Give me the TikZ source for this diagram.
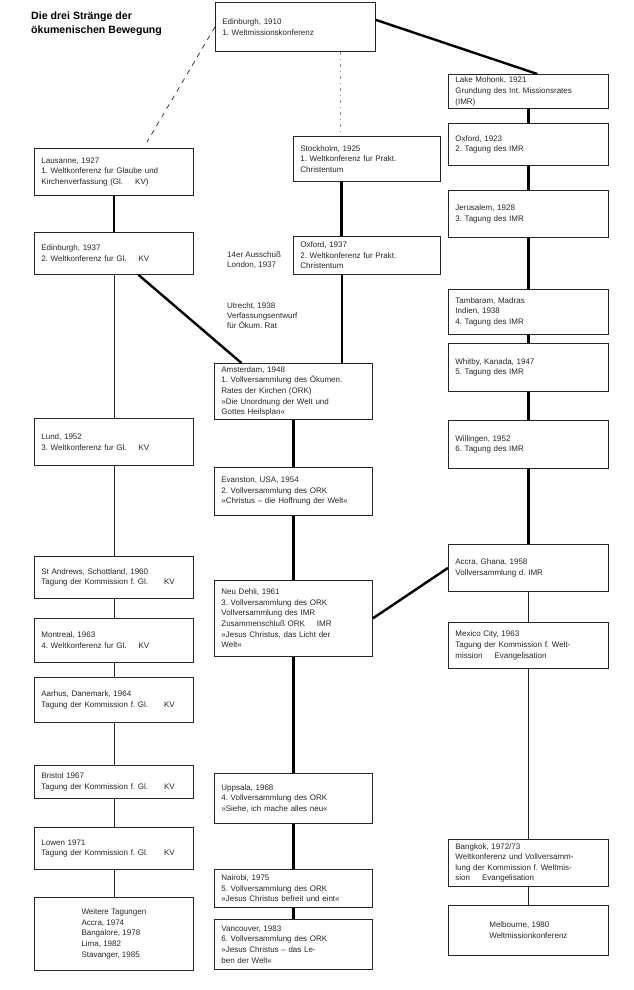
\documentclass[tikz,border=0pt]{standalone}
\usepackage{fontspec}
\setmainfont{Liberation Sans}
\usetikzlibrary{calc}
\frenchspacing
\begin{document}
\begin{tikzpicture}[x=1pt,y=-1pt,
  box/.style={draw=black!85, line width=0.8pt, fill=white, inner xsep=7pt, inner ysep=2pt,
    anchor=north west, align=left, text=black!85, font=\fontsize{8}{10.6}\selectfont},
  colL/.style={box, minimum width=159pt, text width=145pt},
  colM/.style={box, minimum width=158pt, text width=144pt},
  colS/.style={box, minimum width=147pt, text width=133pt},
  colR/.style={box, minimum width=160pt, text width=146pt},
  colC/.style={box, minimum width=#1},
  lbl/.style={anchor=north west, align=left, inner sep=0pt, text=black!85, font=\fontsize{8}{10}\selectfont},
  thickc/.style={line width=2.4pt, black},
  thinc/.style={line width=0.7pt, black!85},
  dashc/.style={line width=0.7pt, black!85, dash pattern=on 5pt off 5pt},
  dotc/.style={line width=0.6pt, black!45, dash pattern=on 3pt off 4pt on 1pt off 4pt},
]
\useasboundingbox (0,0) rectangle (633,990);

% title
\node[anchor=north west, align=left, inner sep=0pt, font=\bfseries\fontsize{10.6}{14}\selectfont] (title) at (31,12)
  {Die drei Stränge der\\ökumenischen Bewegung};

% top
\node[colR, minimum height=49pt] (e1910) at (215,2) {Edinburgh, 1910\\1. Weltmissionskonferenz};

% left column
\node[colL, minimum height=47pt] (laus) at (34,148) {Lausanne, 1927\\1. Weltkonferenz fur Glaube und\\Kirchenverfassung (Gl.\hspace{1.5em}KV)};
\node[colL, minimum height=42pt] (ed37) at (34,232) {Edinburgh, 1937\\2. Weltkonferenz fur Gl.\hspace{1.5em}KV};
\node[colL, minimum height=47pt] (lund) at (34,418) {Lund, 1952\\3. Weltkonferenz fur Gl.\hspace{1.5em}KV};
\node[colL, minimum height=42pt] (stand) at (34,556) {St Andrews, Schottland, 1960\\Tagung der Kommission f. Gl.\hspace{2em}KV};
\node[colL, minimum height=44pt] (montr) at (34,618) {Montreal, 1963\\4. Weltkonferenz fur Gl.\hspace{1.5em}KV};
\node[colL, minimum height=45pt] (aarh) at (34,677) {Aarhus, Danemark, 1964\\Tagung der Kommission f. Gl.\hspace{2em}KV};
\node[colL, minimum height=33pt] (brist) at (34,765) {Bristol 1967\\Tagung der Kommission f. Gl.\hspace{2em}KV};
\node[colL, minimum height=42pt] (lowen) at (34,827) {Lowen 1971\\Tagung der Kommission f. Gl.\hspace{2em}KV};
\node[colC=159pt, minimum height=73pt] (weit) at (34,897) {Weitere Tagungen\\Accra, 1974\\Bangalore, 1978\\Lima, 1982\\Stavanger, 1985};

% second column
\node[colS, minimum height=45pt] (stock) at (293,136) {Stockholm, 1925\\1. Weltkonferenz fur Prakt.\\Christentum};
\node[colS, minimum height=38pt] (ox37) at (293,236) {Oxford, 1937\\2. Weltkonferenz fur Prakt.\\Christentum};

\node[lbl] (lond) at (227,252) {14er Ausschuß\\London, 1937};
\node[lbl] (utr) at (227,302) {Utrecht, 1938\\Verfassungsentwurf\\für Ökum. Rat};

% middle column
\node[colM, minimum height=56pt] (ams) at (214,363) {Amsterdam, 1948\\1. Vollversammlung des Ökumen.\\Rates der Kirchen (ORK)\\»Die Unordnung der Welt und\\Gottes Heilsplan«};
\node[colM, minimum height=48pt] (evan) at (214,467) {Evanston, USA, 1954\\2. Vollversammlung des ORK\\»Christus \textendash{} die Hoffnung der Welt«};
\node[colM, minimum height=76pt] (nd) at (214,580) {Neu Dehli, 1961\\3. Vollversammlung des ORK\\Vollversammlung des IMR\\Zusammenschluß ORK\hspace{1.5em}IMR\\»Jesus Christus, das Licht der\\Welt«};
\node[colM, minimum height=50pt] (upps) at (214,773) {Uppsala, 1968\\4. Vollversammlung des ORK\\»Siehe, ich mache alles neu«};
\node[colM, minimum height=38pt] (nair) at (214,869) {Nairobi, 1975\\5. Vollversammlung des ORK\\»Jesus Christus befreit und eint«};
\node[colM, minimum height=50pt] (vanc) at (214,919) {Vancouver, 1983\\6. Vollversammlung des ORK\\»Jesus Christus \textendash{} das Le-\\ben der Welt«};

% right column
\node[colR, minimum height=34pt] (mohonk) at (448,74) {Lake Mohonk, 1921\\Grundung des Int. Missionsrates\\(IMR)};
\node[colR, minimum height=42pt] (ox23) at (448,123) {Oxford, 1923\\2. Tagung des IMR};
\node[colR, minimum height=47pt] (jeru) at (448,190) {Jerusalem, 1928\\3. Tagung des IMR};
\node[colR, minimum height=45pt] (tamb) at (448,289) {Tambaram, Madras\\Indien, 1938\\4. Tagung des IMR};
\node[colR, minimum height=48pt] (whit) at (448,343) {Whitby, Kanada, 1947\\5. Tagung des IMR};
\node[colR, minimum height=48pt] (will) at (448,420) {Willingen, 1952\\6. Tagung des IMR};
\node[colR, minimum height=47pt] (accra) at (448,544) {Accra, Ghana, 1958\\Vollversammlung d. IMR};
\node[colR, minimum height=46pt] (mexi) at (448,622) {Mexico City, 1963\\Tagung der Kommission f. Welt-\\mission\hspace{1.5em}Evangelisation};
\node[colR, minimum height=47pt] (bang) at (448,839) {Bangkok, 1972/73\\Weltkonferenz und Vollversamm-\\lung der Kommission f. Weltmis-\\sion\hspace{1.5em}Evangelisation};
\node[colC=160pt, minimum height=50pt] (melb) at (448,905) {Melbourne, 1980\\Weltmissionkonferenz};

% connectors
\coordinate (dend) at (147,142);
\draw[dashc] (e1910.west) -- (dend);
\coordinate (vx) at (340,0);
\draw[dotc] (vx |- e1910.south) -- ($(vx |- stock.north)+(0,-5)$);
\draw[thickc] ($(e1910.east)+(0,-7)$) -- ($(mohonk.north)+(9,0)$);

\draw[thickc] (laus.south) -- (ed37.north);
\draw[thinc] (ed37.south) -- (lund.north);
\draw[thinc] (lund.south) -- (stand.north);
\draw[thinc] (stand.south) -- (montr.north);
\draw[thinc] (montr.south) -- (aarh.north);
\draw[thinc] (aarh.south) -- (brist.north);
\draw[thinc] (brist.south) -- (lowen.north);
\draw[thinc] (lowen.south) -- (weit.north);

\draw[thickc] ($(ed37.south)+(24.5,0)$) -- ($(ams.north)+(-52,0)$);

\draw[thickc] ($(stock.south)+(-25.5,0)$) coordinate (sb) -- (sb |- ox37.north);
\draw[thickc] ($(ox37.south)+(-25,0)$) coordinate (ob) -- (ob |- ams.north);

\draw[thickc] (ams.south) -- (evan.north);
\draw[thickc] (evan.south) -- (nd.north);
\draw[thickc] (nd.south) -- (upps.north);
\draw[thickc] (upps.south) -- (nair.north);
\draw[thickc] (nair.south) -- (vanc.north);
\draw[thickc] (nd.east) -- (accra.west);

\draw[thickc] (mohonk.south) -- (ox23.north);
\draw[thickc] (ox23.south) -- (jeru.north);
\draw[thickc] (jeru.south) -- (tamb.north);
\draw[thickc] (tamb.south) -- (whit.north);
\draw[thickc] (whit.south) -- (will.north);
\draw[thickc] (will.south) -- (accra.north);
\draw[thinc] (accra.south) -- (mexi.north);
\draw[thinc] (mexi.south) -- (bang.north);
\draw[thinc] (bang.south) -- (melb.north);
\end{tikzpicture}
\end{document}
